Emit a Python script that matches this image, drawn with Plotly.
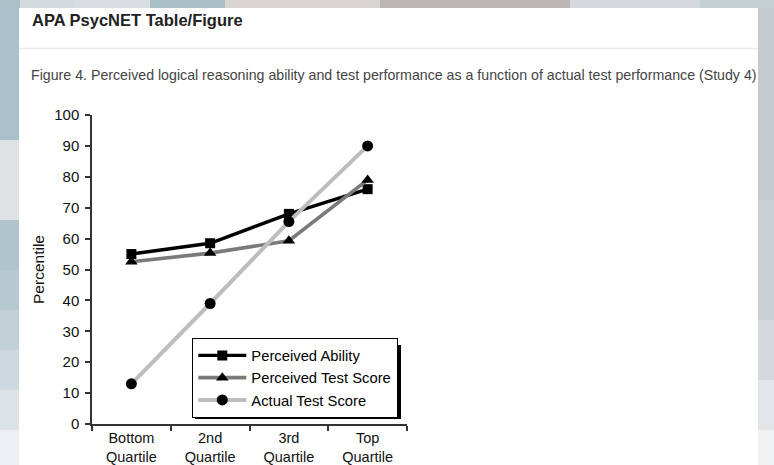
import plotly.graph_objects as go

# ---- data -------------------------------------------------------------
quartiles = ["Bottom<br>Quartile", "2nd<br>Quartile", "3rd<br>Quartile", "Top<br>Quartile"]
perceived_ability = [55, 58.5, 68, 76]
perceived_test_score = [52.5, 55.3, 59.3, 79]
actual_test_score = [13, 39, 65.5, 90]
y_ticks = [0, 10, 20, 30, 40, 50, 60, 70, 80, 90, 100]

title_text = "APA PsycNET Table/Figure"
caption_text = ("Figure 4. Perceived logical reasoning ability and test performance "
                "as a function of actual test performance (Study 4)")

# ---- page geometry (pixels) --------------------------------------------
W, H = 774, 465
PL, PR, PT, PB = 92, 407, 115, 424  # plot area edges


def px(x):
    return (x - PL) / (PR - PL)


def py(y):
    return (PB - y) / (PB - PT)


FONT = "Liberation Sans, Arial, sans-serif"

fig = go.Figure()

fig.add_trace(go.Scatter(
    x=quartiles, y=perceived_ability, name="Perceived Ability",
    mode="lines+markers",
    line=dict(color="#000000", width=3.4),
    marker=dict(symbol="square", size=10, color="#000000"),
))
fig.add_trace(go.Scatter(
    x=quartiles, y=perceived_test_score, name="Perceived Test Score",
    mode="lines+markers",
    line=dict(color="#7a7a7a", width=3.6),
    marker=dict(symbol="triangle-up", size=11, color="#000000"),
))
fig.add_trace(go.Scatter(
    x=quartiles, y=actual_test_score, name="Actual Test Score",
    mode="lines+markers",
    line=dict(color="#bdbdbd", width=4),
    marker=dict(symbol="circle", size=11, color="#000000"),
))

# ---- page background: blurred backdrop approximated in blocks ----------
shapes = []


def rect(x0, y0, x1, y1, color, layer="below"):
    shapes.append(dict(type="rect", xref="paper", yref="paper",
                       x0=px(x0), x1=px(x1), y0=py(y1), y1=py(y0),
                       fillcolor=color, line=dict(width=0), layer=layer))


# top strip
top_bands = [(0, 20, "#a9c0c8"), (20, 75, "#d3dbde"), (75, 150, "#d8dee0"),
             (150, 225, "#a9bfc6"), (225, 380, "#d9d5d3"), (380, 570, "#bdb6b4"),
             (570, 700, "#d3d9dc"), (700, 774, "#c6cfd3")]
for x0, x1, c in top_bands:
    rect(x0, 0, x1, 8, c)

# left strip, fading downward
left_bands = [(8, 140, "#a9c1ca"), (140, 220, "#dfe2e3"), (220, 270, "#afc4cc"),
              (270, 310, "#b7cad1"), (310, 350, "#c1d1d7"), (350, 390, "#cdd9de"),
              (390, 430, "#dbe3e6"), (430, 465, "#ecf0f2")]
for y0, y1, c in left_bands:
    rect(0, y0, 19, y1, c)

# right strip
right_bands = [(8, 200, "#c3cbcf"), (200, 320, "#c8d0d3"), (320, 380, "#d3d9db"),
               (380, 430, "#e2e6e8"), (430, 465, "#eff1f2")]
for y0, y1, c in right_bands:
    rect(758, y0, 774, y1, c)

# white content panel and header divider
rect(19, 8, 758, 465, "#ffffff")
shapes.append(dict(type="line", xref="paper", yref="paper",
                   x0=px(19), x1=px(758), y0=py(48.5), y1=py(48.5),
                   line=dict(color="#ebebeb", width=1.5), layer="below"))

# legend drop shadow
shapes.append(dict(type="rect", xref="paper", yref="paper",
                   x0=px(195), x1=px(401), y0=py(419), y1=py(345),
                   fillcolor="#000000", line=dict(width=0), layer="above"))

annotations = [
    dict(text="<b>" + title_text + "</b>", xref="paper", yref="paper",
         x=px(30), y=py(20), xanchor="left", yanchor="middle", showarrow=False,
         font=dict(family=FONT, size=16.5, color="#222222")),
    dict(text=caption_text, xref="paper", yref="paper",
         x=px(29), y=py(75), xanchor="left", yanchor="middle", showarrow=False,
         font=dict(family=FONT, size=14.2, color="#444444")),
]

fig.update_layout(
    width=W, height=H,
    margin=dict(l=PL, r=W - PR, t=PT, b=H - PB, pad=0),
    paper_bgcolor="#d0d8dc",
    plot_bgcolor="rgba(0,0,0,0)",
    font=dict(family=FONT, size=15, color="#111111"),
    shapes=shapes,
    annotations=annotations,
    showlegend=True,
    legend=dict(
        x=px(398), y=py(378), xanchor="right", yanchor="middle",
        bgcolor="#ffffff", bordercolor="#000000", borderwidth=1.3,
        font=dict(family=FONT, size=14.8, color="#000000"),
        tracegroupgap=0, itemwidth=48,
    ),
    xaxis=dict(
        type="category", range=[-0.5, 3.5], automargin=False,
        showline=True, linecolor="#333333", linewidth=1.5,
        ticks="outside", tickson="boundaries", ticklen=5, tickwidth=1.5,
        tickcolor="#333333", showgrid=False, zeroline=False,
        tickfont=dict(family=FONT, size=14.5, color="#111111"),
        ticklabelstandoff=0,
        fixedrange=True,
    ),
    yaxis=dict(
        range=[0, 100], tickvals=y_ticks, automargin=False,
        showline=True, linecolor="#333333", linewidth=1.5,
        ticks="outside", ticklen=5, tickwidth=1.5, tickcolor="#333333",
        showgrid=False, zeroline=False,
        tickfont=dict(family=FONT, size=15, color="#111111"),
        ticklabelstandoff=3,
        title=dict(text="Percentile", standoff=6,
                   font=dict(family=FONT, size=15.5, color="#111111")),
        fixedrange=True,
    ),
)

fig.write_html("out.html")
